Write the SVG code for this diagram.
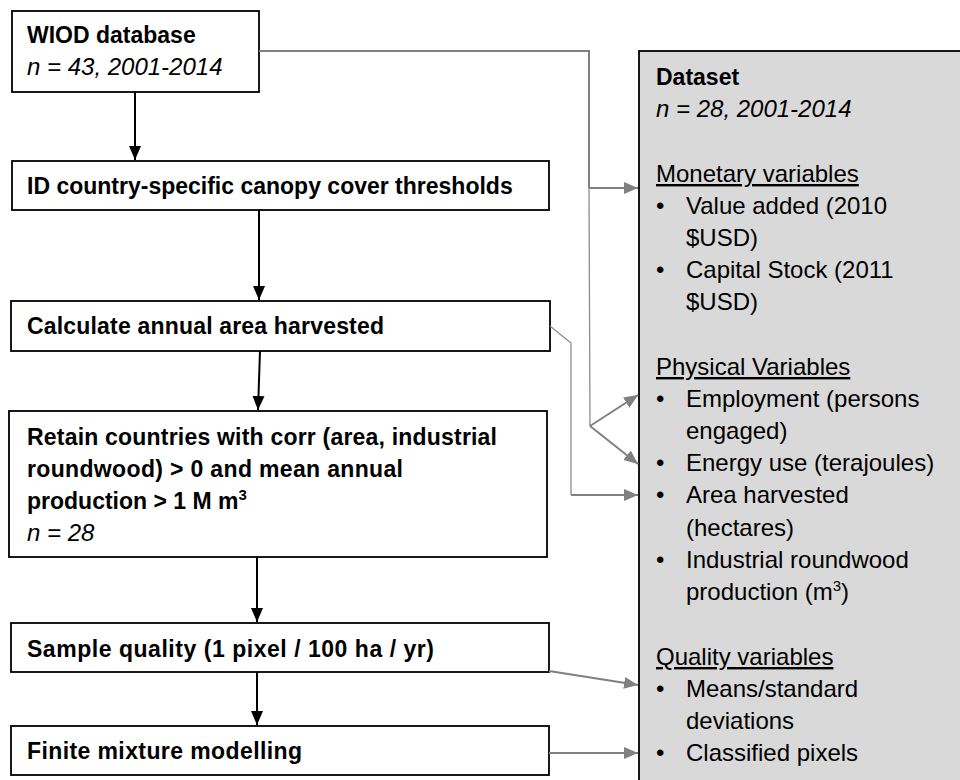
<svg xmlns="http://www.w3.org/2000/svg" width="960" height="780" viewBox="0 0 960 780">
<style>
.box{fill:#fff;stroke:#000;stroke-width:1.8}
.panel{fill:#d9d9d9;stroke:#000;stroke-width:1.8}
text{font-family:"Liberation Sans",Arial,sans-serif;fill:#000}
.b{font-weight:bold;font-size:23px}
.r{font-size:24px}
.i{font-style:italic;font-size:24px}
.u{text-decoration:underline}
.blk{fill:none;stroke:#000;stroke-width:2}
.gry{fill:none;stroke:#808080;stroke-width:2}
.gthin{fill:none;stroke:#8c8c8c;stroke-width:1.3}
</style>
<defs>
<marker id="ab" markerUnits="userSpaceOnUse" markerWidth="14" markerHeight="14" refX="14" refY="7" orient="auto">
<path d="M0,1 L14,7 L0,13 z" fill="#000"/>
</marker>
<marker id="ag" markerUnits="userSpaceOnUse" markerWidth="14" markerHeight="14" refX="14" refY="7" orient="auto">
<path d="M0,1 L14,7 L0,13 z" fill="#808080"/>
</marker>
</defs>
<rect width="960" height="780" fill="#fff"/>

<g id="dataset">
<rect class="panel" x="639" y="51" width="340" height="750"/>
<text class="b" x="656" y="85">Dataset</text>
<text class="i" x="656" y="117">n = 28, 2001-2014</text>
<text class="r u" x="656" y="182">Monetary variables</text>
<text class="r" x="656" y="214">•</text><text class="r" x="686" y="214">Value added (2010</text>
<text class="r" x="686" y="246">$USD)</text>
<text class="r" x="656" y="278">•</text><text class="r" x="686" y="278">Capital Stock (2011</text>
<text class="r" x="686" y="310">$USD)</text>
<text class="r u" x="656" y="375">Physical Variables</text>
<text class="r" x="656" y="407">•</text><text class="r" x="686" y="407">Employment (persons</text>
<text class="r" x="686" y="439">engaged)</text>
<text class="r" x="656" y="471">•</text><text class="r" x="686" y="471">Energy use (terajoules)</text>
<text class="r" x="656" y="503">•</text><text class="r" x="686" y="503">Area harvested</text>
<text class="r" x="686" y="536">(hectares)</text>
<text class="r" x="656" y="568">•</text><text class="r" x="686" y="568">Industrial roundwood</text>
<text class="r" x="686" y="600">production (m<tspan font-size="15" dy="-9">3</tspan><tspan dy="9">)</tspan></text>
<text class="r u" x="656" y="665">Quality variables</text>
<text class="r" x="656" y="697">•</text><text class="r" x="686" y="697">Means/standard</text>
<text class="r" x="686" y="729">deviations</text>
<text class="r" x="656" y="761">•</text><text class="r" x="686" y="761">Classified pixels</text>
</g>

<g id="wiod">
<rect class="box" x="12" y="11" width="247" height="81"/>
<text class="b" x="27" y="43">WIOD database</text>
<text class="i" x="27" y="75">n = 43, 2001-2014</text>
</g>

<g id="thresholds">
<rect class="box" x="12" y="161" width="537" height="49"/>
<text class="b" x="27" y="194">ID country-specific canopy cover thresholds</text>
</g>

<g id="area">
<rect class="box" x="11" y="301" width="539" height="50"/>
<text class="b" x="27" y="334" textLength="357" lengthAdjust="spacing">Calculate annual area harvested</text>
</g>

<g id="retain">
<rect class="box" x="9" y="411" width="538" height="146"/>
<text class="b" x="27" y="445" textLength="470" lengthAdjust="spacing">Retain countries with corr (area, industrial</text>
<text class="b" x="27" y="477" textLength="376" lengthAdjust="spacing">roundwood) &gt; 0 and mean annual</text>
<text class="b" x="27" y="509">production &gt; 1 M m<tspan font-size="15" dy="-9">3</tspan></text>
<text class="i" x="27" y="541">n = 28</text>
</g>

<g id="sample">
<rect class="box" x="11" y="623" width="538" height="49"/>
<text class="b" x="27" y="657" textLength="407" lengthAdjust="spacing">Sample quality (1 pixel / 100 ha / yr)</text>
</g>

<g id="mixture">
<rect class="box" x="11" y="726" width="538" height="49"/>
<text class="b" x="27" y="759" textLength="275" lengthAdjust="spacing">Finite mixture modelling</text>
</g>

<g id="connectors">
<line class="blk" x1="135" y1="92" x2="135" y2="160" marker-end="url(#ab)"/>
<line class="blk" x1="259" y1="210" x2="259" y2="300" marker-end="url(#ab)"/>
<line class="blk" x1="260" y1="351" x2="258" y2="410" marker-end="url(#ab)"/>
<line class="blk" x1="257" y1="557" x2="257" y2="622" marker-end="url(#ab)"/>
<line class="blk" x1="257" y1="672" x2="257" y2="725" marker-end="url(#ab)"/>

<polyline class="gry" points="259,51 589,51 589,188"/>
<line class="gry" x1="589" y1="188" x2="638" y2="188" marker-end="url(#ag)"/>
<line class="gthin" x1="589" y1="188" x2="590" y2="426"/>
<line class="gry" x1="590" y1="426" x2="638" y2="395" marker-end="url(#ag)"/>
<line class="gry" x1="590" y1="426" x2="638" y2="464" marker-end="url(#ag)"/>

<polyline class="gthin" points="550,326 571,343 571,495"/>
<line class="gry" x1="571" y1="495" x2="638" y2="495" marker-end="url(#ag)"/>

<line class="gry" x1="549" y1="671" x2="638" y2="685" marker-end="url(#ag)"/>
<line class="gry" x1="549" y1="753" x2="638" y2="753" marker-end="url(#ag)"/>
</g>
</svg>
